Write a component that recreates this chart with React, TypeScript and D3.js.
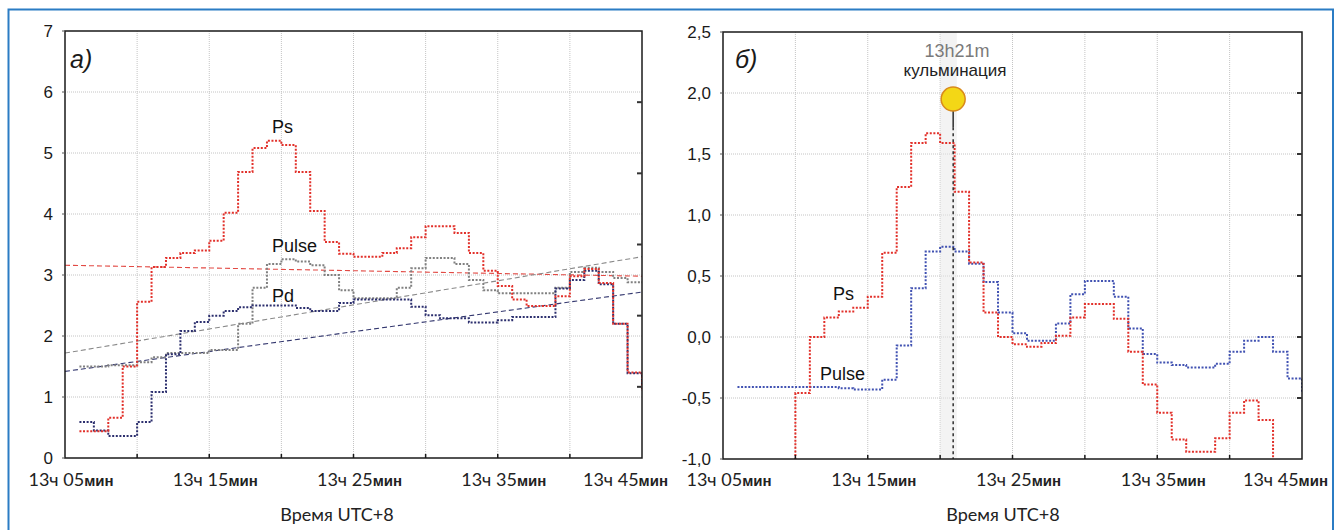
import React from "react";
import * as d3 from "d3";

// ---- data (minutes after 13:05, one-minute steps; value holds until next minute) ----
const stepMinutes = d3.range(0, 41);

const psA = [null, 0.44, 0.44, 0.66, 1.5, 2.56, 3.13, 3.28, 3.36, 3.4, 3.56, 4.02, 4.69, 5.08, 5.2, 5.13, 4.69, 4.05, 3.54, 3.35, 3.3, 3.3, 3.36, 3.44, 3.62, 3.8, 3.8, 3.69, 3.36, 3.07, 2.82, 2.6, 2.49, 2.49, 2.65, 2.98, 3.1, 2.87, 2.2, 1.4, 1.1];
const pdA = [null, 0.59, 0.45, 0.36, 0.36, 0.59, 1.08, 1.7, 2.08, 2.23, 2.33, 2.41, 2.47, 2.5, 2.5, 2.5, 2.46, 2.41, 2.41, 2.54, 2.6, 2.6, 2.6, 2.6, 2.48, 2.34, 2.29, 2.29, 2.22, 2.22, 2.26, 2.31, 2.31, 2.31, 2.78, 2.92, 3.07, 2.85, 2.2, 1.39, 1.15];
const pulseA = [null, 1.5, 1.5, 1.52, 1.52, 1.57, 1.65, 1.72, 1.72, 1.72, 1.77, 1.77, 2.2, 2.79, 3.18, 3.26, 3.22, 3.16, 3.0, 2.75, 2.62, 2.62, 2.62, 2.79, 3.11, 3.28, 3.28, 3.18, 2.92, 2.75, 2.7, 2.7, 2.7, 2.7, 2.79, 3.05, 3.12, 3.05, 2.95, 2.88, 2.88];

const trendMinutes = [0, 40];
const psTrendA = [3.16, 2.98];
const pulseTrendA = [1.72, 3.3];
const pdTrendA = [1.42, 2.72];

const psB = [null, null, null, null, -1.3, -0.46, 0.0, 0.16, 0.21, 0.24, 0.33, 0.69, 1.23, 1.59, 1.67, 1.59, 1.19, 0.61, 0.2, 0.0, -0.06, -0.08, -0.05, 0.01, 0.16, 0.27, 0.27, 0.15, -0.12, -0.39, -0.62, -0.84, -0.94, -0.94, -0.83, -0.62, -0.52, -0.68, -1.3, null, null];
const pulseB = [null, -0.41, -0.41, -0.41, -0.41, -0.41, -0.41, -0.41, -0.42, -0.43, -0.43, -0.35, -0.07, 0.4, 0.7, 0.74, 0.7, 0.6, 0.45, 0.2, 0.03, -0.03, -0.03, 0.11, 0.35, 0.46, 0.46, 0.33, 0.07, -0.14, -0.21, -0.23, -0.25, -0.25, -0.22, -0.12, -0.03, 0.0, -0.12, -0.34, -0.45];

const culmMinute = 15.9;
const culmValue = 1.95;
const culmBand = [15.0, 16.15];

const xTickMinutes = [0, 10, 20, 30, 40];
const xTickLabels = ["13ч 05", "13ч 15", "13ч 25", "13ч 35", "13ч 45"];
const xGridMinutes = [5, 10, 15, 20, 25, 30, 35];
const yTicksA = [0, 1, 2, 3, 4, 5, 6, 7];
const yTicksB = [-1, -0.5, 0, 0.5, 1, 1.5, 2, 2.5];

// ---- styles ----
const RED = "#e2302a";
const NAVY = "#2c2f6e";
const GRAY = "#808080";
const BLUE = "#4152b2";
const GRID = "#c4c4c4";
const SANS = "'Liberation Sans', Arial, sans-serif";
const CAL = "Lato, 'Open Sans', sans-serif";

type Box = { l: number; r: number; t: number; b: number };
const boxA: Box = { l: 65, r: 642, t: 31, b: 458 };
const boxB: Box = { l: 723, r: 1302, t: 32, b: 459 };

function steps(values: (number | null)[]) {
  return stepMinutes.map((m, i) => [m, values[i]] as [number, number | null]);
}

function Panel(props: {
  box: Box;
  yDomain: [number, number];
  yTicks: number[];
  fmt: (v: number) => string;
  id: string;
  axisLabelX: number;
  rightTicks: number[];
  children: (x: d3.ScaleLinear<number, number>, y: d3.ScaleLinear<number, number>) => React.ReactNode;
}) {
  const { box, yDomain, yTicks, fmt, id } = props;
  const x = d3.scaleLinear().domain([0, 40]).range([box.l, box.r]);
  const y = d3.scaleLinear().domain(yDomain).range([box.b, box.t]);
  return (
    <g>
      <defs>
        <clipPath id={id}>
          <rect x={box.l} y={box.t} width={box.r - box.l} height={box.b - box.t} />
        </clipPath>
      </defs>
      <rect x={box.l} y={box.t} width={box.r - box.l} height={box.b - box.t} fill="#fff" />
      {yTicks.slice(1, -1).map((v) => (
        <line key={"gy" + v} x1={box.l} x2={box.r} y1={y(v)} y2={y(v)} stroke={GRID} strokeWidth={1} strokeDasharray="1 1" />
      ))}
      {xGridMinutes.map((m) => (
        <line key={"gx" + m} x1={x(m)} x2={x(m)} y1={box.t} y2={box.b} stroke={GRID} strokeWidth={1} strokeDasharray="1 1" />
      ))}
      <g clipPath={`url(#${id})`}>{props.children(x, y)}</g>
      <rect x={box.l} y={box.t} width={box.r - box.l} height={box.b - box.t} fill="none" stroke="#1a1a1a" strokeWidth={1.5} />
      {xGridMinutes.map((m) => (
        <line key={"tx" + m} x1={x(m)} x2={x(m)} y1={box.b} y2={box.b - 4} stroke="#1a1a1a" strokeWidth={1.5} />
      ))}
      {yTicks.map((v) => (
        <line key={"ty" + v} x1={box.l - 3} x2={box.l} y1={y(v)} y2={y(v)} stroke="#555" strokeWidth={1} />
      ))}
      {props.rightTicks.map((py, i) => (
        <line key={"tr" + i} x1={box.r - 5} x2={box.r} y1={py} y2={py} stroke="#333" strokeWidth={2} />
      ))}
      {yTicks.map((v) => (
        <text key={"ly" + v} x={box.l - 12} y={y(v)} dy="0.36em" textAnchor="end" fontFamily={SANS} fontSize={17} fill="#1a1a1a">
          {fmt(v)}
        </text>
      ))}
      {xTickMinutes.map((m, i) => {
        const last = i === xTickMinutes.length - 1;
        return (
          <text key={"lx" + m} x={last ? x(m) + 26 : x(m) + 6} y={486} textAnchor={last ? "end" : "middle"} fontFamily={CAL} fontSize={18} fill="#222">
            {xTickLabels[i]}
            <tspan fontFamily={SANS} fontWeight="bold" fontSize={15}>мин</tspan>
          </text>
        );
      })}
      <text x={props.axisLabelX} y={521} textAnchor="middle" fontFamily={CAL} fontSize={18} fill="#222">
        Время UTC+8
      </text>
    </g>
  );
}

function stepPath(x: d3.ScaleLinear<number, number>, y: d3.ScaleLinear<number, number>, values: (number | null)[]) {
  return (
    d3
      .line<[number, number | null]>()
      .defined((d) => d[1] != null)
      .x((d) => x(d[0]))
      .y((d) => y(d[1] as number))
      .curve(d3.curveStepAfter)(steps(values)) || ""
  );
}

function trendPath(x: d3.ScaleLinear<number, number>, y: d3.ScaleLinear<number, number>, values: number[]) {
  return d3
    .line<number>()
    .x((_, i) => x(trendMinutes[i]))
    .y((d) => y(d))(values) || "";
}

const dotted = { fill: "none", strokeWidth: 2, strokeDasharray: "2 1.6" };
const dashed = { fill: "none", strokeWidth: 1.1, strokeDasharray: "5 3" };

export default function App() {
  const fmtA = (v: number) => String(v);
  const fmtB = (v: number) => d3.format(".1f")(v).replace(".", ",").replace("−", "-");
  const rightA = [1, 2, 3, 4, 5].map((k) => boxA.t + ((boxA.b - boxA.t) / 6) * k);
  const yB = d3.scaleLinear().domain([-1, 2.5]).range([boxB.b, boxB.t]);
  const rightB = [-0.5, 0, 0.5, 1, 1.5, 2].map((v) => yB(v));
  return (
    <svg width={1339} height={530} style={{ position: "absolute", left: 0, top: 0, background: "#fff" }}>
      <path d="M8.5,531 V9.5 H1333 V531" fill="none" stroke="#2b7cc4" strokeWidth={2} />
      <Panel box={boxA} yDomain={[0, 7]} yTicks={yTicksA} fmt={fmtA} id="clipA" axisLabelX={337} rightTicks={rightA}>
        {(x, y) => (
          <g>
            <path d={trendPath(x, y, psTrendA)} stroke="#e24a44" {...dashed} />
            <path d={trendPath(x, y, pulseTrendA)} stroke="#8a8a8a" {...dashed} />
            <path d={trendPath(x, y, pdTrendA)} stroke="#34386f" {...dashed} />
            <path d={stepPath(x, y, pulseA)} stroke={GRAY} {...dotted} />
            <path d={stepPath(x, y, pdA)} stroke={NAVY} {...dotted} />
            <path d={stepPath(x, y, psA)} stroke={RED} {...dotted} />
          </g>
        )}
      </Panel>
      <Panel box={boxB} yDomain={[-1, 2.5]} yTicks={yTicksB} fmt={fmtB} id="clipB" axisLabelX={1003} rightTicks={rightB}>
        {(x, y) => (
          <g>
            <rect x={x(culmBand[0])} y={boxB.t} width={x(culmBand[1]) - x(culmBand[0])} height={boxB.b - boxB.t} fill="#e8e8e8" opacity={0.5} />
            <path d={stepPath(x, y, pulseB)} stroke={BLUE} {...dotted} />
            <path d={stepPath(x, y, psB)} stroke={RED} {...dotted} />
            <line x1={x(culmMinute)} x2={x(culmMinute)} y1={y(culmValue)} y2={y(1.72)} stroke="#111" strokeWidth={1.3} />
            <line x1={x(culmMinute)} x2={x(culmMinute)} y1={y(1.72)} y2={boxB.b} stroke="#111" strokeWidth={1.3} strokeDasharray="3 3" />
            <circle cx={x(culmMinute)} cy={y(culmValue)} r={12} fill="#f3d716" stroke="#d98a1c" strokeWidth={1.5} />
          </g>
        )}
      </Panel>
      <text x={70} y={68} fontFamily={SANS} fontStyle="italic" fontSize={25} fill="#1a1a1a">а)</text>
      <text x={735} y={68} fontFamily={SANS} fontStyle="italic" fontSize={25} fill="#1a1a1a">б)</text>
      <text x={272} y={133} fontFamily={SANS} fontSize={18} fill="#111">Ps</text>
      <text x={272} y={252} fontFamily={SANS} fontSize={18} fill="#111">Pulse</text>
      <text x={272} y={302} fontFamily={SANS} fontSize={18} fill="#111">Pd</text>
      <text x={833} y={300} fontFamily={SANS} fontSize={18} fill="#111">Ps</text>
      <text x={820} y={380} fontFamily={SANS} fontSize={18} fill="#111">Pulse</text>
      <text x={957} y={57} textAnchor="middle" fontFamily={SANS} fontSize={18} fill="#7a7a7a">13h21m</text>
      <text x={955} y={76} textAnchor="middle" fontFamily={SANS} fontSize={17} fill="#222">кульминация</text>
    </svg>
  );
}
